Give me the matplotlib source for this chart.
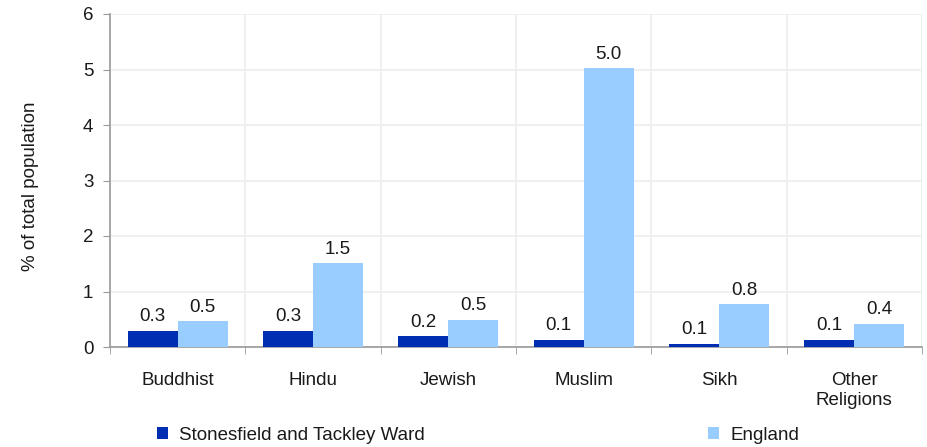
import matplotlib
matplotlib.use("Agg")
import matplotlib.pyplot as plt
import numpy as np

plt.rcParams['font.family'] = ['Liberation Sans', 'DejaVu Sans']

categories = ["Buddhist", "Hindu", "Jewish", "Muslim", "Sikh", "Other\nReligions"]
ward = [0.29, 0.29, 0.19, 0.13, 0.06, 0.13]
england = [0.46, 1.51, 0.49, 5.02, 0.77, 0.42]
series_names = ["Stonesfield and Tackley Ward", "England"]
colors = ["#002eb3", "#99ccff"]

FS = 13.5
fig = plt.figure(figsize=(9.28, 4.47), dpi=100)
ax = fig.add_axes([110/928, 100/447, 812/928, 333/447])

x = np.arange(len(categories))
w = 0.37
b1 = ax.bar(x - w/2, ward, w, color=colors[0], label=series_names[0], zorder=3)
b2 = ax.bar(x + w/2, england, w, color=colors[1], label=series_names[1], zorder=3)

for bars, vals in ((b1, ward), (b2, england)):
    for r, v in zip(bars, vals):
        ax.text(r.get_x() + r.get_width()/2, v + 0.1, f"{v:.1f}", ha="center", va="bottom",
                fontsize=FS, color="#1a1a1a")

ax.set_xlim(-0.5, len(categories) - 0.5)
ax.set_ylim(0, 6)
ax.set_yticks(range(0, 7))
ax.tick_params(axis='y', length=5, color="#999999", labelsize=FS, pad=7, labelcolor="#1a1a1a")
ax.set_xticks(x)
ax.set_xticklabels(categories, fontsize=FS, linespacing=1.25, color="#1a1a1a")
ax.tick_params(axis='x', length=0, pad=18)
ax.set_xticks(np.arange(-0.5, len(categories)), minor=True)
ax.tick_params(axis='x', which='minor', length=5, color="#999999")

ax.grid(axis='y', color="#eeeeee", linewidth=1.2, zorder=0)
ax.grid(axis='x', which='minor', color="#eeeeee", linewidth=1.2, zorder=0)
for s in ("top", "right"):
    ax.spines[s].set_visible(False)
for s in ("left", "bottom"):
    ax.spines[s].set_color("#999999")
    ax.spines[s].set_linewidth(1.2)
ax.axvline(len(categories) - 0.5, color="#eeeeee", linewidth=1.2, zorder=0)

ax.set_ylabel("% of total population", fontsize=FS, color="#1a1a1a")
ax.yaxis.set_label_coords(-71/812, 0.482)

h, l = ax.get_legend_handles_labels()
fig.legend([h[0]], [l[0]], loc="center left", bbox_to_anchor=(140/928, 1 - 435/447),
           frameon=False, fontsize=FS, handlelength=0.6, handleheight=0.6, handletextpad=0.6,
           labelcolor="#1a1a1a")
fig.legend([h[1]], [l[1]], loc="center left", bbox_to_anchor=(691/928, 1 - 435/447),
           frameon=False, fontsize=FS, handlelength=0.6, handleheight=0.6, handletextpad=0.6,
           labelcolor="#1a1a1a")

fig.savefig("out.png", dpi=100)
